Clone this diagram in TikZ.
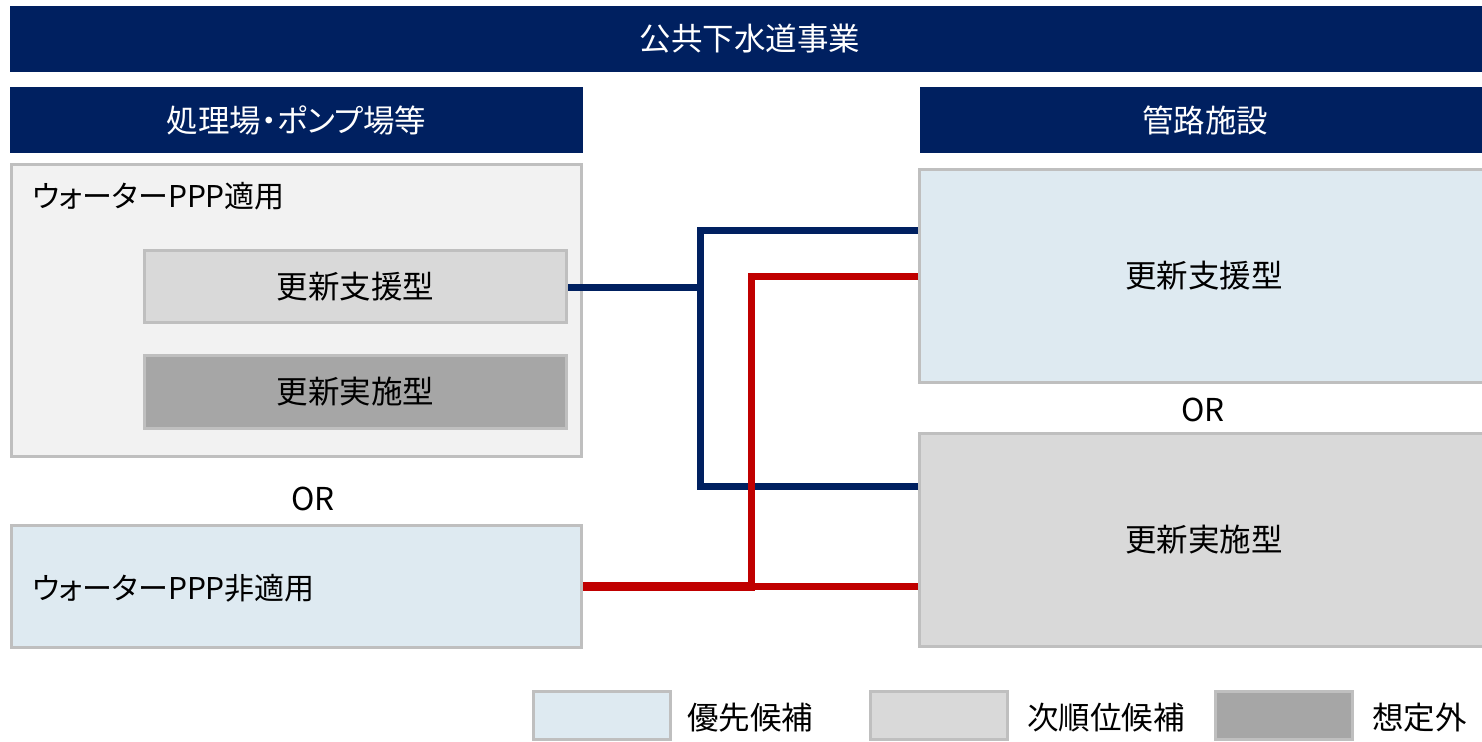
\documentclass[tikz,border=0pt]{standalone}
\usepackage{fontspec}
\setmainfont{Noto Sans CJK JP}[RawFeature={+palt}]
\definecolor{navy}{HTML}{002060}
\definecolor{redline}{HTML}{C00000}
\definecolor{bordergray}{HTML}{BFBFBF}
\definecolor{lightblue}{HTML}{DEEAF1}
\definecolor{palegray}{HTML}{F2F2F2}
\definecolor{midgray}{HTML}{D9D9D9}
\definecolor{darkgray}{HTML}{A6A6A6}
\newcommand{\fsz}{\fontsize{31.5}{37}\selectfont}
\newcommand{\fsk}{\fontsize{30}{36}\selectfont}
\begin{document}
\begin{tikzpicture}[x=1pt,y=-1pt,
  hdr/.style={fill=navy, text=white, inner sep=0pt, font=\fsz},
  box/.style={draw=bordergray, line width=3pt, inner sep=0pt, font=\fsz, text=black},
  lbl/.style={inner sep=0pt, font=\fsz, text=black},
  blueline/.style={draw=navy, line width=7pt, line join=miter},
  redline/.style={draw=redline, line width=7pt, line join=miter}]
\useasboundingbox (0,0) rectangle (1482,741);
% headers
\node[hdr, minimum width=1480pt, minimum height=66pt] (top) at (750,39) {公共下水道事業};
\node[hdr, minimum width=573pt, minimum height=66pt] (lh) at (296.5,120) {処理場・ポンプ場等};
\node[hdr, minimum width=570pt, minimum height=66pt] (rh) at (1205,120) {管路施設};
% left group
\node[box, fill=palegray, minimum width=570pt, minimum height=292pt] (lbox) at (296.5,310.5) {};
\node[lbl, font=\fsk, anchor=west] (lboxt) at (32,196) {ウォーターPPP適用};
\node[box, fill=midgray, minimum width=422pt, minimum height=72pt] (s1) at (355.5,286.5) {更新支援型};
\node[box, fill=darkgray, minimum width=422pt, minimum height=73pt] (s2) at (355.5,392) {更新実施型};
\node[lbl] (or1) at (313,499) {OR};
\node[box, fill=lightblue, minimum width=570pt, minimum height=122pt] (na) at (296.5,586.5) {};
\node[lbl, font=\fsk, anchor=west] (nat) at (32,588) {ウォーターPPP非適用};
% right group
\node[box, fill=lightblue, minimum width=568.5pt, minimum height=213pt] (r1) at (1203.75,276) {更新支援型};
\node[lbl] (or2) at (1203,410) {OR};
\node[box, fill=midgray, minimum width=568.5pt, minimum height=213pt] (r2) at (1203.75,540) {更新実施型};
% connectors
\coordinate (bj) at (700.5,287);
\coordinate (bt) at (700.5,230);
\coordinate (bb) at (700.5,486);
\coordinate (rt) at (751.5,276);
\coordinate (rb) at (751.5,586);
\draw[redline] (rt -| r1.west) -- (rt) -- (rb);
\draw[redline, line width=9pt] (na.east |- rb) -- ([xshift=3.5pt]rb);
\draw[redline] (rb) -- (rb -| r2.west);
\draw[blueline] (s1.east |- bj) -- (bj);
\draw[blueline] (bt -| r1.west) -- (bt) -- (bb) -- (bb -| r2.west);
\draw[redline] ([yshift=-4pt]rb |- bb) -- ([yshift=4pt]rb |- bb);
% legend
\node[box, fill=lightblue, minimum width=137pt, minimum height=48pt] (lg1) at (602,715.5) {};
\node[lbl, anchor=west] (lg1t) at (687,718) {優先候補};
\node[box, fill=midgray, minimum width=137pt, minimum height=48pt] (lg2) at (939,715.5) {};
\node[lbl, anchor=west] (lg2t) at (1027,718) {次順位候補};
\node[box, fill=darkgray, minimum width=137pt, minimum height=48pt] (lg3) at (1284,715.5) {};
\node[lbl, anchor=west] (lg3t) at (1372,718) {想定外};
\end{tikzpicture}
\end{document}
